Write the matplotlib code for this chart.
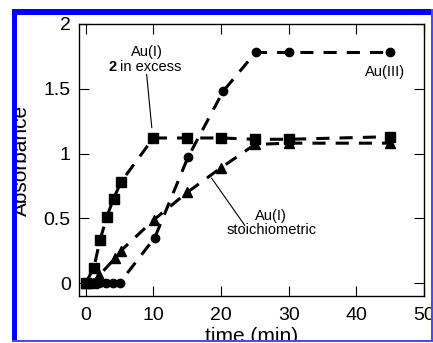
import matplotlib

matplotlib.use("Agg")
import matplotlib.pyplot as plt
from matplotlib.patches import Rectangle

plt.rcParams["font.family"] = ["Liberation Sans", "DejaVu Sans"]

# Au(III)
t_au3 = [0, 1, 2, 3, 4, 5, 10.2, 15.1, 20.3, 25.1, 30, 45]
a_au3 = [0, 0, 0, 0, 0, 0, 0.35, 0.97, 1.48, 1.78, 1.78, 1.78]

# Au(I), 2 in excess
t_excess = [0, 1.2, 2.1, 3.1, 4.1, 5.2, 10, 15, 20, 25, 30, 45]
a_excess = [0, 0.12, 0.33, 0.51, 0.65, 0.78, 1.12, 1.12, 1.12, 1.11, 1.11, 1.13]

# Au(I), stoichiometric
t_stoich = [0, 1, 2, 4.3, 5.2, 10.1, 15, 20, 25, 30, 45]
a_stoich = [0, 0, 0.06, 0.19, 0.25, 0.49, 0.70, 0.89, 1.07, 1.08, 1.08]

W, H = 433, 343
fig = plt.figure(figsize=(W / 100, H / 100), dpi=100)
ax = fig.add_axes([79 / W, 1 - 296 / H, 345 / W, 272 / H])

style = dict(color="black", lw=2.2, dashes=(4.3, 3.3))
ax.plot(t_au3, a_au3, marker="o", ms=6, **style)
ax.plot(t_excess, a_excess, marker="s", ms=7, **style)
ax.plot(t_stoich, a_stoich, marker="^", ms=7, **style)

ax.set_xlim(-1, 50)
ax.set_ylim(-0.1, 2.0)
ax.set_xticks([0, 10, 20, 30, 40, 50])
ax.set_yticks([0, 0.5, 1, 1.5, 2])
ax.set_yticklabels(["0", "0.5", "1", "1.5", "2"])
ax.tick_params(direction="in", length=7, width=0.8, labelsize=14,
               top=True, right=True)
ax.tick_params(axis="x", pad=8)
ax.tick_params(axis="y", pad=6)
for s in ax.spines.values():
    s.set_linewidth(1.0)

# annotations
fs = 10.5
ax.text(9.0, 1.75, "Au(I)", ha="center", va="baseline", fontsize=fs)
ax.text(4.6, 1.64, "2", ha="right", va="baseline", fontsize=fs, fontweight="bold")
ax.text(5.0, 1.64, "in excess", ha="left", va="baseline", fontsize=fs)
ax.plot([9.0, 9.76], [1.61, 1.2], color="black", lw=0.8)

ax.text(44.2, 1.6, "Au(III)", ha="center", va="baseline", fontsize=fs)

ax.text(27.4, 0.49, "Au(I)", ha="center", va="baseline", fontsize=fs)
ax.text(27.5, 0.38, "stoichiometric", ha="center", va="baseline", fontsize=fs)
ax.plot([23.5, 18.6], [0.446, 0.81], color="black", lw=0.8)

# axis labels (partly cut off by the frame, as in the original)
fig.text(21 / W, 1 - 160 / H, "Absorbance", rotation=90, ha="center",
         va="center", fontsize=15)
fig.text(252 / W, 1 - 327 / H, "time (min)", ha="center", va="top", fontsize=15)


def box(x0, y0, x1, y1, color):
    fig.add_artist(Rectangle((x0 / W, 1 - y1 / H), (x1 - x0) / W, (y1 - y0) / H,
                             transform=fig.transFigure, facecolor=color,
                             edgecolor="none", zorder=10))


# white outside the frame, blue frame
box(0, 0, 12, H, "white")
box(0, 0, W, 9, "white")
box(0, 341.5, W, H, "white")
box(12, 9, 17, 341.5, "#0000ff")
box(12, 9, 432, 15, "#0000ff")
box(431, 9, 433, 341.5, "#4848ff")
box(12, 340, 432, 341.5, "#4848ff")

fig.savefig("out.png", dpi=100)
